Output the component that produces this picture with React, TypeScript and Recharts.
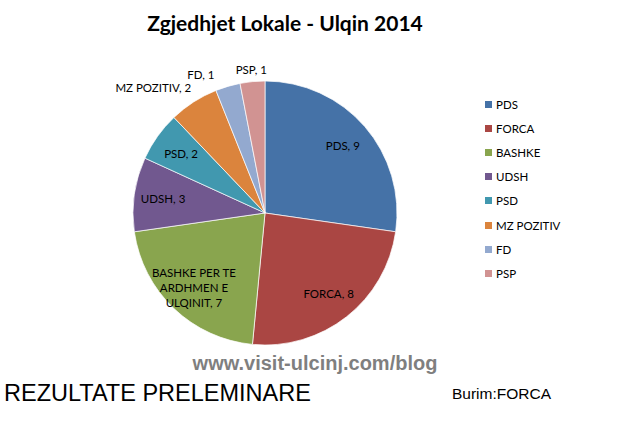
import React from "react";
import { PieChart, Pie, Cell, Legend } from "recharts";

const parties = ["PDS", "FORCA", "BASHKE", "UDSH", "PSD", "MZ POZITIV", "FD", "PSP"];
const seats = [9, 8, 7, 3, 2, 2, 1, 1];
const colors = ["#4572A7", "#AA4643", "#89A54E", "#71588F", "#4198AF", "#DB843D", "#93A9CF", "#D19392"];
const bashkeLines = ["BASHKE PER TE", "ARDHMEN  E", "ULQINIT, 7"];

const data = parties.map((p, i) => ({ name: p, value: seats[i] }));

const RAD = Math.PI / 180;
const FONT = "Lato, 'Open Sans', sans-serif";

const renderLabel = (props: any) => {
  const { cx, cy, midAngle, outerRadius, index, value } = props;
  const cos = Math.cos(-midAngle * RAD);
  const sin = Math.sin(-midAngle * RAD);
  const entry = data[index];
  if (index <= 4) {
    const r = outerRadius * 0.78;
    const x = cx + r * cos;
    const y = cy + r * sin;
    if (index === 2) {
      return (
        <text x={x} y={y} textAnchor="middle" fontFamily={FONT} fontSize={11.5} fill="#000">
          {bashkeLines.map((l, i) => (
            <tspan key={i} x={x} dy={i === 0 ? -11 : 15}>{l}</tspan>
          ))}
        </text>
      );
    }
    return (
      <text x={x} y={y} textAnchor="middle" dominantBaseline="central" fontFamily={FONT} fontSize={11.5} fill="#000">
        {`${entry.name}, ${value}`}
      </text>
    );
  }
  const r = outerRadius + 12;
  const x = cx + r * cos;
  const y = cy + r * sin;
  const anchor = cos < -0.2 ? "end" : "middle";
  return (
    <text x={x + (index === 6 ? -10 : index === 5 ? 4 : 0)} y={y - (index === 5 ? 4 : 0)} textAnchor={anchor} dominantBaseline="central" fontFamily={FONT} fontSize={11.5} fill="#000">
      {`${entry.name}, ${value}`}
    </text>
  );
};

const LegendContent = () => {
  return (
    <div style={{ fontFamily: FONT, fontSize: 11.5, color: "#000" }}>
      {data.map((d, i) => (
        <div key={i} style={{ display: "flex", alignItems: "center", height: 24.2 }}>
          <span style={{ display: "inline-block", width: 7, height: 7, background: colors[i], marginRight: 4 }} />
          <span>{d.name}</span>
        </div>
      ))}
    </div>
  );
};

export default function App() {
  return (
    <div style={{ position: "absolute", left: 0, top: 0, width: 635, height: 438, background: "#fff" }}>
      <div style={{ position: "absolute", left: 0, top: 10, width: 570, textAlign: "center", fontFamily: FONT, fontWeight: 700, fontSize: 21, color: "#000" }}>
        Zgjedhjet Lokale - Ulqin 2014
      </div>
      <PieChart width={635} height={438} margin={{ top: 0, right: 0, bottom: 0, left: 0 }} style={{ position: "absolute", left: 0, top: 0 }}>
        <Pie
          data={data}
          dataKey="value"
          nameKey="name"
          cx={265}
          cy={213}
          outerRadius={132}
          startAngle={90}
          endAngle={-270}
          stroke="#ffffff"
          strokeWidth={0.7}
          label={renderLabel}
          labelLine={false}
          isAnimationActive={false}
        >
          {data.map((d, i) => (
            <Cell key={d.name} fill={colors[i]} />
          ))}
        </Pie>
        <Legend
          layout="vertical"
          align="right"
          verticalAlign="top"
          content={<LegendContent />}
          wrapperStyle={{ left: 485, top: 92, width: 120 }}
        />
      </PieChart>
      <div style={{ position: "absolute", left: 0, top: 352, width: 630, textAlign: "center", fontFamily: "'Liberation Sans', Arial, sans-serif", fontWeight: 700, fontSize: 20, color: "#7f7f7f" }}>
        www.visit-ulcinj.com/blog
      </div>
      <div style={{ position: "absolute", left: 4, top: 380, fontFamily: "'Liberation Sans', Arial, sans-serif", fontSize: 23.5, color: "#000" }}>
        REZULTATE PRELEMINARE
      </div>
      <div style={{ position: "absolute", left: 452, top: 385, fontFamily: "'Liberation Sans', Arial, sans-serif", fontSize: 15.5, color: "#000" }}>
        Burim:FORCA
      </div>
    </div>
  );
}
